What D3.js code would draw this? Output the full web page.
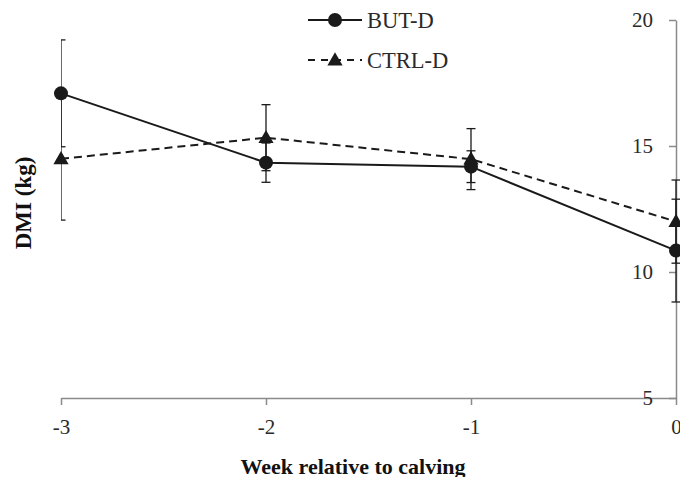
<!DOCTYPE html>
<html>
<head>
<meta charset="utf-8">
<script src="https://cdn.jsdelivr.net/npm/d3@7"></script>
<style>
  body { margin: 0; background: #fff; }
  svg text { font-family: "Liberation Serif", "Times New Roman", serif; }
</style>
</head>
<body>
<svg id="chart" width="680" height="477"></svg>
<script>
var weeks = [-3, -2, -1, 0];
var xTicks = [-3, -2, -1, 0];
var yTicks = [5, 10, 15, 20];

var butD = [17.09, 14.34, 14.18, 10.85];
var butDErr = [2.12, 0.78, 0.63, 2.04];
var ctrlD = [14.49, 15.33, 14.48, 12.0];
var ctrlDErr = [2.43, 1.31, 1.21, 1.65];

var series = [
    { name: "CTRL-D", values: ctrlD, err: ctrlDErr, dash: "8,5", marker: "triangle" },
    { name: "BUT-D", values: butD, err: butDErr, dash: null, marker: "circle" }
];

var svg = d3.select("#chart");
var ink = "#1a1a1a";
var axisGrey = "#8a8a8a";

var x = d3.scaleLinear().domain([-3, 0]).range([61, 676]);
var y = d3.scaleLinear().domain([5, 20]).range([398, 20]);

// axes
var xAxis = svg.append("g")
    .attr("transform", "translate(0,398)")
    .call(d3.axisBottom(x).tickValues(xTicks).tickSize(7).tickSizeOuter(0).tickPadding(14)
        .tickFormat(d3.format("d")));

var yAxis = svg.append("g")
    .attr("transform", "translate(676,0)")
    .call(d3.axisLeft(y).tickValues(yTicks).tickSize(7).tickSizeOuter(0).tickPadding(16));

[xAxis, yAxis].forEach(function(a){
    a.select(".domain").attr("stroke", axisGrey).attr("stroke-width", 1.5);
    a.selectAll(".tick line").attr("stroke", axisGrey).attr("stroke-width", 1.5);
    a.selectAll(".tick text")
        .attr("fill", "#2a2a2a")
        .style("font-size", "21px")
        .style("font-family", "'Liberation Serif', serif");
});
xAxis.selectAll(".tick text").text(function(d){ return d === 0 ? "0" : String(d); });

// clip for error bar caps (left edge of plot)
svg.append("clipPath").attr("id", "plotclip")
    .append("rect")
    .attr("x", x(-3)).attr("y", 0)
    .attr("width", 680 - x(-3)).attr("height", 477);

var line = d3.line()
    .x(function(d, i){ return x(weeks[i]); })
    .y(function(d){ return y(d); });

var tri = d3.symbol().type(d3.symbolTriangle).size(100);

// error bars
var errG = svg.append("g").attr("clip-path", "url(#plotclip)");
series.forEach(function(s){
    var rows = weeks.map(function(w, i){ return { w: w, v: s.values[i], e: s.err[i] }; });
    var g = errG.selectAll(null).data(rows).enter().append("g")
        .attr("stroke", ink).attr("stroke-width", 1.3);
    g.append("line")
        .attr("x1", function(d){ return x(d.w); })
        .attr("x2", function(d){ return x(d.w); })
        .attr("y1", function(d){ return y(d.v + d.e); })
        .attr("y2", function(d){ return y(d.v - d.e); });
    [1, -1].forEach(function(sign){
        g.append("line")
            .attr("x1", function(d){ return x(d.w) - 4.5; })
            .attr("x2", function(d){ return x(d.w) + 4.5; })
            .attr("y1", function(d){ return y(d.v + sign * d.e); })
            .attr("y2", function(d){ return y(d.v + sign * d.e); });
    });
});

// lines and markers
series.forEach(function(s){
    svg.append("path")
        .datum(s.values)
        .attr("d", line)
        .attr("fill", "none")
        .attr("stroke", ink)
        .attr("stroke-width", 2)
        .attr("stroke-dasharray", s.dash);

    var pts = svg.selectAll(null).data(s.values).enter();
    if (s.marker === "circle") {
        pts.append("circle")
            .attr("cx", function(d, i){ return x(weeks[i]); })
            .attr("cy", function(d){ return y(d); })
            .attr("r", 7)
            .attr("fill", ink);
    } else {
        pts.append("path")
            .attr("d", tri)
            .attr("transform", function(d, i){ return "translate(" + x(weeks[i]) + "," + (y(d) + 1) + ")"; })
            .attr("fill", ink);
    }
});

// legend
var legendRows = [
    { name: "BUT-D", dash: null, marker: "circle", y: 20 },
    { name: "CTRL-D", dash: "7,6", marker: "triangle", y: 60 }
];
var lg = svg.append("g");
legendRows.forEach(function(r){
    lg.append("line")
        .attr("x1", 308).attr("x2", 362)
        .attr("y1", r.y).attr("y2", r.y)
        .attr("stroke", ink).attr("stroke-width", 2)
        .attr("stroke-dasharray", r.dash);
    if (r.marker === "circle") {
        lg.append("circle").attr("cx", 335).attr("cy", r.y).attr("r", 7).attr("fill", ink);
    } else {
        lg.append("path").attr("d", tri)
            .attr("transform", "translate(335," + (r.y + 1) + ")").attr("fill", ink);
    }
    lg.append("text")
        .attr("x", 367).attr("y", r.y + 8)
        .attr("fill", "#2a2a2a")
        .style("font-size", "22.5px")
        .text(r.name);
});

// axis titles
svg.append("text")
    .attr("x", 353).attr("y", 474)
    .attr("text-anchor", "middle")
    .attr("fill", "#111")
    .style("font-size", "22px").style("font-weight", "bold")
    .text("Week relative to calving");

svg.append("text")
    .attr("transform", "translate(31,203) rotate(-90)")
    .attr("text-anchor", "middle")
    .attr("fill", "#111")
    .style("font-size", "23px").style("font-weight", "bold")
    .text("DMI (kg)");
</script>
</body>
</html>
